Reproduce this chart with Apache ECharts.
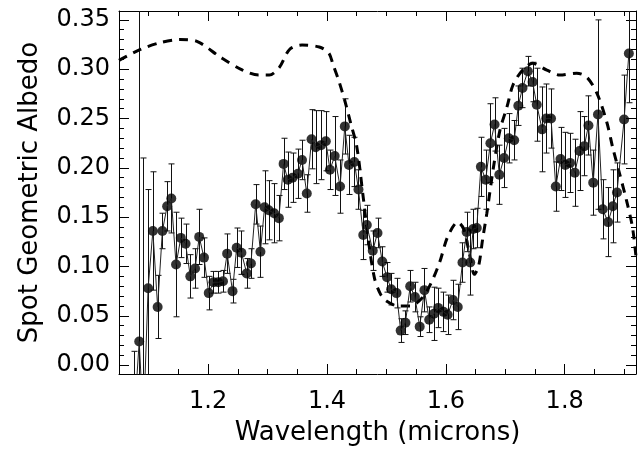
<!DOCTYPE html>
<html>
<head>
<meta charset="utf-8">
<title>spot albedo</title>
<script src="https://cdn.jsdelivr.net/npm/echarts@6/dist/echarts.min.js"></script>
<style>
  html, body { margin: 0; padding: 0; background: #fff; }
  #main { width: 641px; height: 453px; }
</style>
</head>
<body>
<div id="main"></div>
<script>
// measured spectrum (microns, albedo, 1-sigma)
var wl = [1.076, 1.084, 1.091, 1.099, 1.107, 1.115, 1.123, 1.131, 1.138, 1.146,
  1.154, 1.162, 1.170, 1.178, 1.185, 1.193, 1.201, 1.209, 1.217, 1.225,
  1.232, 1.241, 1.248, 1.256, 1.265, 1.272, 1.280, 1.288, 1.295, 1.302,
  1.311, 1.319, 1.327, 1.334, 1.342, 1.351, 1.358, 1.366, 1.374, 1.381,
  1.390, 1.398, 1.405, 1.413, 1.422, 1.430, 1.437, 1.446, 1.453, 1.461,
  1.467, 1.477, 1.485, 1.493, 1.501, 1.508, 1.517, 1.524, 1.532, 1.540,
  1.548, 1.556, 1.564, 1.572, 1.580, 1.587, 1.596, 1.603, 1.612, 1.620,
  1.628, 1.635, 1.641, 1.646, 1.652, 1.659, 1.667, 1.675, 1.682, 1.690,
  1.698, 1.706, 1.715, 1.722, 1.729, 1.738, 1.746, 1.753, 1.762, 1.769,
  1.777, 1.785, 1.793, 1.801, 1.809, 1.817, 1.825, 1.833, 1.840, 1.848,
  1.856, 1.864, 1.873, 1.881, 1.888, 1.900, 1.908];
var albedo = [-0.05, 0.024, -0.06, 0.078, 0.136, 0.059, 0.136, 0.161, 0.169, 0.102,
  0.129, 0.123, 0.090, 0.098, 0.130, 0.109, 0.073, 0.084, 0.084, 0.085,
  0.113, 0.075, 0.119, 0.114, 0.093, 0.103, 0.163, 0.115, 0.160, 0.157,
  0.154, 0.149, 0.204, 0.188, 0.190, 0.194, 0.208, 0.174, 0.229, 0.221,
  0.223, 0.227, 0.198, 0.212, 0.181, 0.242, 0.203, 0.206, 0.178, 0.132,
  0.142, 0.116, 0.134, 0.105, 0.089, 0.077, 0.073, 0.035, 0.043, 0.080,
  0.069, 0.039, 0.076, 0.046, 0.052, 0.058, 0.054, 0.051, 0.066, 0.059,
  0.104, 0.135, 0.104, 0.138, 0.139, 0.201, 0.188, 0.225, 0.244, 0.193,
  0.210, 0.230, 0.228, 0.263, 0.281, 0.298, 0.287, 0.264, 0.239, 0.250,
  0.250, 0.181, 0.209, 0.203, 0.205, 0.195, 0.217, 0.222, 0.243, 0.185,
  0.254, 0.158, 0.145, 0.161, 0.175, 0.249, 0.316];
var albedoErr = [0.064, 0.40, 0.27, 0.10, 0.06, 0.032, 0.018, 0.025, 0.035, 0.053,
  0.02, 0.02, 0.022, 0.02, 0.028, 0.02, 0.017, 0.011, 0.011, 0.011,
  0.02, 0.012, 0.02, 0.022, 0.015, 0.015, 0.02, 0.026, 0.037, 0.03,
  0.03, 0.023, 0.026, 0.028, 0.025, 0.025, 0.02, 0.019, 0.03, 0.037,
  0.035, 0.03, 0.02, 0.04, 0.027, 0.028, 0.03, 0.025, 0.02, 0.025,
  0.02, 0.02, 0.015, 0.015, 0.015, 0.016, 0.015, 0.012, 0.012, 0.016,
  0.015, 0.01, 0.022, 0.013, 0.027, 0.02, 0.02, 0.02, 0.02, 0.023,
  0.02, 0.02, 0.033, 0.02, 0.02, 0.03, 0.03, 0.04, 0.027, 0.03,
  0.03, 0.025, 0.02, 0.02, 0.02, 0.015, 0.02, 0.037, 0.043, 0.035,
  0.03, 0.025, 0.032, 0.033, 0.03, 0.034, 0.04, 0.03, 0.03, 0.033,
  0.096, 0.03, 0.035, 0.037, 0.03, 0.045, 0.05];

// model curve (dashed)
var modelWl = [1.05, 1.086, 1.12, 1.153, 1.182, 1.22, 1.258, 1.285, 1.303, 1.32,
  1.337, 1.358, 1.387, 1.403, 1.41, 1.42, 1.43, 1.44, 1.45, 1.46,
  1.47, 1.48, 1.49, 1.50, 1.52, 1.54, 1.56, 1.575, 1.59, 1.603,
  1.62, 1.63, 1.64, 1.648, 1.655, 1.662, 1.669, 1.68, 1.691, 1.703,
  1.713, 1.729, 1.746, 1.77, 1.792, 1.82, 1.837, 1.854, 1.871, 1.881,
  1.892, 1.904, 1.914, 1.92];
var modelAlbedo = [0.309, 0.320, 0.327, 0.330, 0.328, 0.3125, 0.299, 0.294, 0.294, 0.302,
  0.320, 0.3245, 0.3225, 0.3165, 0.305, 0.288, 0.268, 0.245, 0.222, 0.175,
  0.125, 0.088, 0.072, 0.065, 0.060, 0.060, 0.068, 0.083, 0.105, 0.130,
  0.145, 0.138, 0.112, 0.092, 0.100, 0.128, 0.154, 0.200, 0.238, 0.262,
  0.284, 0.299, 0.306, 0.299, 0.294, 0.296, 0.292, 0.276, 0.246, 0.220,
  0.195, 0.167, 0.140, 0.11];

// ticks
var xTickLabels = [1.2, 1.4, 1.6, 1.8];
var xMinorTicks = [1.05, 1.1, 1.15, 1.25, 1.3, 1.35, 1.45, 1.5, 1.55, 1.65, 1.7, 1.75, 1.85, 1.9];
var yTickLabels = [0, 0.05, 0.1, 0.15, 0.2, 0.25, 0.3, 0.35];
var yMinorTicks = [];
for (var k = 0; k < 36; k++) {
    if (k % 5 !== 0) yMinorTicks.push(k / 100);
}

var X_MIN = 1.05, X_MAX = 1.92, Y_MIN = -0.009, Y_MAX = 0.359;
var FONT = 'DejaVu Sans';

var points = [], bars = [], model = [];
for (var i = 0; i < wl.length; i++) {
    points.push([wl[i], albedo[i]]);
    bars.push([wl[i], albedo[i], albedoErr[i]]);
}
for (var j = 0; j < modelWl.length; j++) model.push([modelWl[j], modelAlbedo[j]]);

function xAx(pos, major, withLabel) {
    return {
        type: 'value', position: pos, min: X_MIN, max: X_MAX,
        axisLine: { show: major, onZero: false, lineStyle: { color: '#000', width: 1 } },
        axisTick: { show: true, inside: true, length: major ? 10 : 5,
            customValues: major ? xTickLabels : xMinorTicks,
            lineStyle: { color: '#000', width: 1 } },
        axisLabel: { show: withLabel, customValues: xTickLabels, margin: 16,
            color: '#000', fontFamily: FONT, fontSize: 24,
            formatter: function (v) { return v.toFixed(1); } },
        splitLine: { show: false },
        name: withLabel ? 'Wavelength (microns)' : '',
        nameLocation: 'middle', nameGap: 46,
        nameTextStyle: { color: '#000', fontFamily: FONT, fontSize: 26 }
    };
}
function yAx(pos, major, withLabel) {
    return {
        type: 'value', position: pos, min: Y_MIN, max: Y_MAX,
        axisLine: { show: major, onZero: false, lineStyle: { color: '#000', width: 1 } },
        axisTick: { show: true, inside: true, length: major ? 10 : 5,
            customValues: major ? yTickLabels : yMinorTicks,
            lineStyle: { color: '#000', width: 1 } },
        axisLabel: { show: withLabel, customValues: yTickLabels, margin: 9,
            color: '#000', fontFamily: FONT, fontSize: 24,
            formatter: function (v) { return v.toFixed(2); } },
        splitLine: { show: false },
        name: withLabel ? 'Spot Geometric Albedo' : '',
        nameLocation: 'middle', nameGap: 76, nameRotate: 90,
        nameTextStyle: { color: '#000', fontFamily: FONT, fontSize: 26 }
    };
}

function renderBar(params, api) {
    var x = api.value(0), y = api.value(1), e = api.value(2);
    var lo = api.coord([x, y - e]);
    var hi = api.coord([x, y + e]);
    var cx = Math.round(lo[0]) + 0.5;
    var w = 3;
    var st = { stroke: '#111', lineWidth: 1 };
    return {
        type: 'group',
        children: [
            { type: 'line', shape: { x1: cx, y1: lo[1], x2: cx, y2: hi[1] }, style: st },
            { type: 'line', shape: { x1: cx - w, y1: lo[1], x2: cx + w, y2: lo[1] }, style: st },
            { type: 'line', shape: { x1: cx - w, y1: hi[1], x2: cx + w, y2: hi[1] }, style: st }
        ]
    };
}

var chart = echarts.init(document.getElementById('main'));
chart.setOption({
    animation: false,
    backgroundColor: '#fff',
    grid: { left: 119, right: 5, top: 11, bottom: 79, containLabel: false },
    xAxis: [xAx('bottom', true, true), xAx('bottom', false, false),
            xAx('top', true, false), xAx('top', false, false)],
    yAxis: [yAx('left', true, true), yAx('left', false, false),
            yAx('right', true, false), yAx('right', false, false)],
    series: [
        {
            name: 'model', type: 'line', data: model, smooth: 0.3,
            showSymbol: false, clip: true,
            lineStyle: { color: '#000', width: 3, type: [9, 7] }
        },
        {
            name: 'errors', type: 'custom', data: bars, clip: true,
            encode: { x: 0, y: 1 }, renderItem: renderBar
        },
        {
            name: 'link', type: 'line', data: points, showSymbol: false, clip: true,
            lineStyle: { color: '#222', width: 1 }
        },
        {
            name: 'albedo', type: 'scatter', data: points, symbolSize: 10, clip: true,
            itemStyle: { color: '#000' }
        }
    ]
});
</script>
</body>
</html>
